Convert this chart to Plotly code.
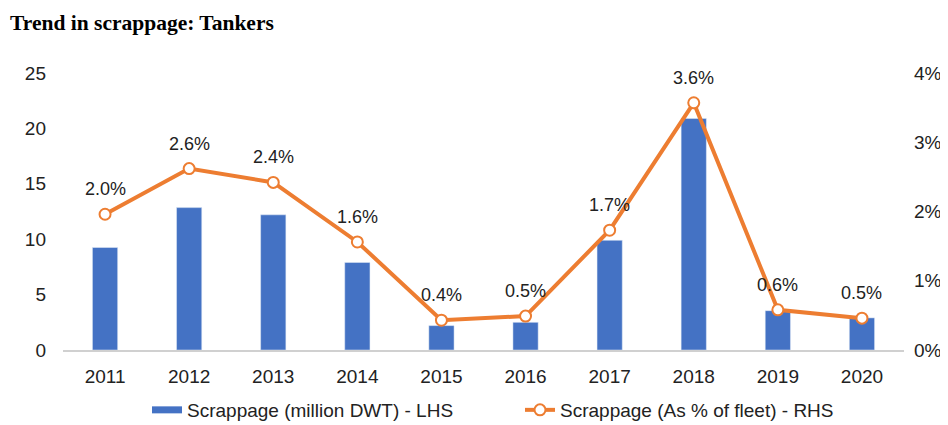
import plotly.graph_objects as go

years = ["2011", "2012", "2013", "2014", "2015", "2016", "2017", "2018", "2019", "2020"]
scrappage_mdwt = [9.25, 12.85, 12.2, 7.9, 2.2, 2.5, 9.9, 20.9, 3.55, 2.9]
scrappage_pct = [0.0196, 0.0262, 0.0242, 0.0156, 0.0043, 0.0049, 0.0173, 0.0357, 0.0058, 0.0046]
left_ticks = [0, 5, 10, 15, 20, 25]
right_ticks = [0, 0.01, 0.02, 0.03, 0.04]

BLUE = "#4472C4"
ORANGE = "#ED7D31"

W, H = 932, 417  # page has an 8px body margin

fig = go.Figure()
fig.add_trace(go.Bar(
    x=years, y=scrappage_mdwt, name="Scrappage (million DWT) - LHS",
    marker=dict(color=BLUE), yaxis="y", showlegend=False))
# legend entry for bars drawn as a wide flat swatch
fig.add_trace(go.Scatter(
    x=[years[0]], y=[None], mode="lines", name="Scrappage (million DWT) - LHS",
    line=dict(color=BLUE, width=7), yaxis="y"))
fig.add_trace(go.Scatter(
    x=years, y=scrappage_pct, name="Scrappage (As % of fleet) - RHS",
    mode="lines+markers", yaxis="y2",
    line=dict(color=ORANGE, width=4),
    marker=dict(size=11, color="white", line=dict(color=ORANGE, width=2))))

for i, v in enumerate(scrappage_pct):
    fig.add_annotation(x=i, y=v, xref="x", yref="y2", text=f"{v*100:.1f}%",
                       showarrow=False, yshift=25, yanchor="middle",
                       font=dict(size=18, color="#222"))

fig.update_layout(
    width=W, height=H,
    margin=dict(l=55, r=36, t=65, b=75, autoexpand=False),
    paper_bgcolor="white", plot_bgcolor="white",
    font=dict(family="Liberation Sans, Arial", size=19, color="#222"),
    bargap=0.7,
    title=dict(text="<b>Trend in scrappage: Tankers</b>", x=2 / W, xanchor="left",
               y=1 - 14 / H, yanchor="middle",
               font=dict(family="Liberation Serif, Times New Roman", size=21.5, color="black")),
    xaxis=dict(type="category", categoryorder="array", categoryarray=years,
               range=[-0.5, len(years) - 0.5],
               showline=True, linecolor="#d0d0d0", linewidth=1.5, ticks="",
               tickfont=dict(size=19), ticklabelstandoff=8, automargin=False),
    yaxis=dict(range=[0, 25], tickvals=left_ticks, showgrid=False, zeroline=False,
               ticks="", ticklabelstandoff=16, tickfont=dict(size=19), automargin=False),
    yaxis2=dict(range=[0, 0.04], tickvals=right_ticks, tickformat=".0%", overlaying="y",
                side="right", showgrid=False, zeroline=False, ticklabelstandoff=9,
                tickfont=dict(size=19), automargin=False),
    legend=dict(orientation="h", x=139 / W, xanchor="left", xref="container",
                y=1 - 402 / H, yanchor="middle", yref="container",
                font=dict(size=19), entrywidth=328, entrywidthmode="pixels",
                tracegroupgap=0),
    showlegend=True,
)

fig.write_html("out.html")
